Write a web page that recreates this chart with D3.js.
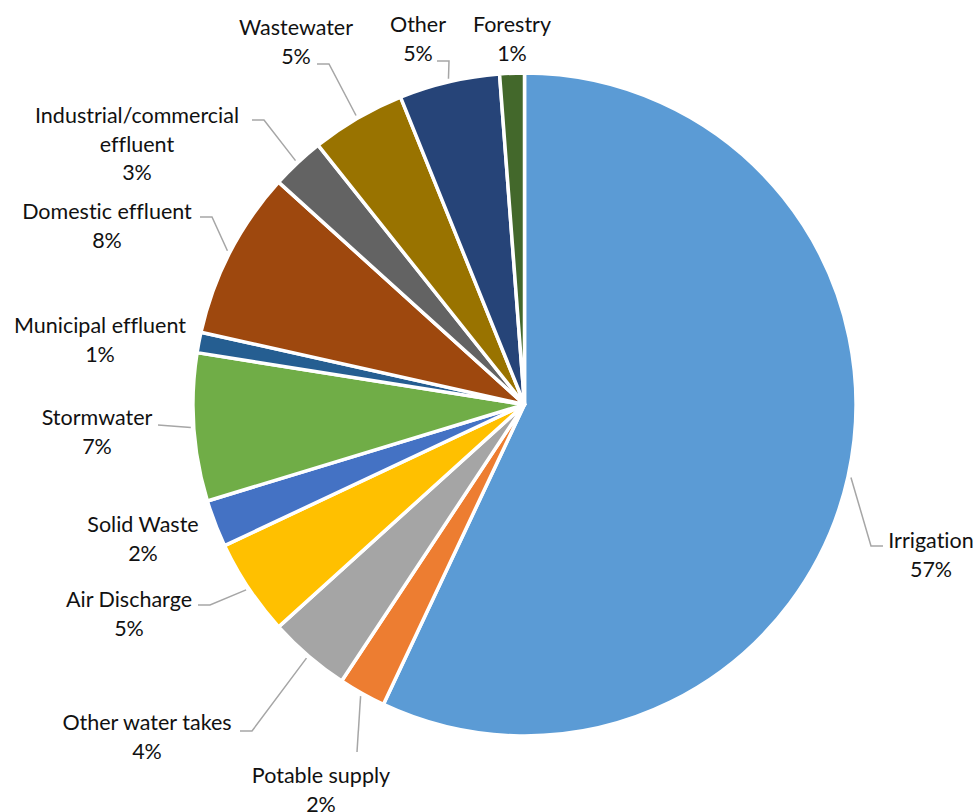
<!DOCTYPE html>
<html>
<head>
	<meta charset="utf-8">
	<title>Consents by activity type</title>
	<style>
body {
  background-color: #ffffff;
  margin: 0;
}

svg {
  background-color: #ffffff;
  display: block;
}

text {
  font-variant-ligatures: none;
}
	</style>
</head>
<body>

	<div id="my_dataviz"></div>

	<script src="https://d3js.org/d3.v7.min.js"></script>

	<script>
// Chart data (percent shares)
var categories = ["Irrigation", "Potable supply", "Other water takes", "Air Discharge",
  "Solid Waste", "Stormwater", "Municipal effluent", "Domestic effluent",
  "Industrial/commercial effluent", "Wastewater", "Other", "Forestry"];
var values = [57.0, 2.3, 4.0, 4.7, 2.3, 7.2, 1.0, 8.2, 2.6, 4.6, 4.9, 1.2];
var colors = ["#5b9bd5", "#ed7d31", "#a5a5a5", "#ffc000", "#4472c4", "#70ad47",
  "#255e91", "#9e480e", "#636363", "#997300", "#264478", "#43682b"];

// How the label text is broken into lines
var labelLines = [["Irrigation"], ["Potable supply"], ["Other water takes"], ["Air Discharge"],
  ["Solid Waste"], ["Stormwater"], ["Municipal effluent"], ["Domestic effluent"],
  ["Industrial/commercial", "effluent"], ["Wastewater"], ["Other"], ["Forestry"]];

// Label placement (centre x, first baseline y) and where the leader line meets the label
var labelPos = [[931, 548], [321, 783], [147, 730], [129, 607], [143, 532], [97, 425],
  [100, 333], [107, 219], [137, 123], [296, 35], [418, 32], [512, 32]];
var leaderEnd = [[883, 546, 1], [357, 752, 0], [240, 731, -1], [198, 605, -1], null, [158, 425, 0],
  null, [200, 217, -1], [252, 120, -1], [317, 64, -1], [437, 61, -1], null];

var width = 979,
  height = 812,
  cx = 524.5,
  cy = 404.5,
  radius = 331.5,
  lineGap = 28.5;

var svg = d3.select("#my_dataviz")
  .append("svg")
  .attr("width", width)
  .attr("height", height);

var pie = d3.pie().sort(null).value(function(d) { return d; });
var arc = d3.arc().innerRadius(0).outerRadius(radius);
var arcs = pie(values);

var total = d3.sum(values);

var g = svg.append("g")
  .attr("transform", "translate(" + cx + "," + cy + ")");

g.selectAll("path.slice")
  .data(arcs)
  .enter().append("path")
  .attr("class", "slice")
  .attr("d", arc)
  .attr("fill", function(d, i) { return colors[i]; })
  .attr("stroke", "#ffffff")
  .attr("stroke-width", 3.5)
  .attr("stroke-linejoin", "round");

// leader lines
arcs.forEach(function(d, i) {
  var e = leaderEnd[i];
  if (!e) return;
  var a = (d.startAngle + d.endAngle) / 2;
  var r0 = radius + 3;
  var sx = cx + Math.sin(a) * r0,
    sy = cy - Math.cos(a) * r0;
  var pts = [[sx, sy]];
  if (e[2] !== 0) pts.push([e[0] - e[2] * 12, e[1]]);
  pts.push([e[0], e[1]]);
  svg.append("path")
    .attr("d", d3.line()(pts))
    .attr("fill", "none")
    .attr("stroke", "#a6a6a6")
    .attr("stroke-width", 1.5);
});

// labels
var labels = svg.append("g")
  .attr("font-family", "Lato, 'Open Sans', sans-serif")
  .attr("font-size", "21.5px")
  .attr("fill", "#111111")
  .attr("text-anchor", "middle");

arcs.forEach(function(d, i) {
  var lines = labelLines[i].concat([Math.round(values[i] / total * 100) + "%"]);
  var t = labels.append("text")
    .attr("x", labelPos[i][0])
    .attr("y", labelPos[i][1]);
  lines.forEach(function(s, k) {
    t.append("tspan")
      .attr("x", labelPos[i][0])
      .attr("y", labelPos[i][1] + k * lineGap)
      .text(s);
  });
});
	</script>

</body>
</html>
